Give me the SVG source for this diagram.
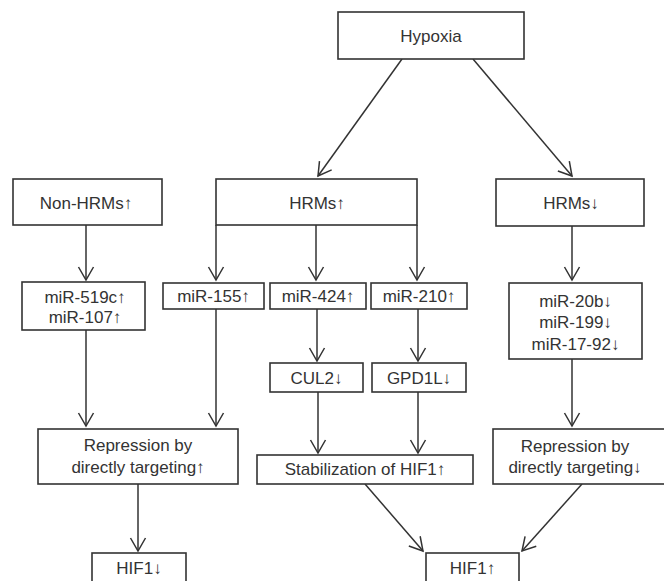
<svg xmlns="http://www.w3.org/2000/svg" width="664" height="581" viewBox="0 0 664 581">
<defs>
<style>
.box{fill:#fff;stroke:#333;stroke-width:1.6}
.t{font-family:"Liberation Sans",Arial,sans-serif;font-size:17px;fill:#333;text-anchor:middle}
.c{stroke:#333;stroke-width:1.5;fill:none}
</style>
<marker id="ah" markerUnits="userSpaceOnUse" markerWidth="20" markerHeight="20" viewBox="-15 -10 17 20" refX="0" refY="0" orient="auto">
<path d="M-13,-7.5 L0,0 L-13,7.5" fill="none" stroke="#333" stroke-width="1.5"/>
</marker>
</defs>
<rect width="664" height="581" fill="#fff"/>
<g id="connectors">
<line class="c" x1="402" y1="59" x2="318" y2="176" marker-end="url(#ah)"/>
<line class="c" x1="473" y1="59" x2="572" y2="176" marker-end="url(#ah)"/>
<line class="c" x1="86" y1="225" x2="86" y2="280" marker-end="url(#ah)"/>
<line class="c" x1="216" y1="225" x2="216" y2="280" marker-end="url(#ah)"/>
<line class="c" x1="316" y1="225" x2="316" y2="280" marker-end="url(#ah)"/>
<line class="c" x1="417" y1="225" x2="417" y2="280" marker-end="url(#ah)"/>
<line class="c" x1="572" y1="226" x2="572" y2="280" marker-end="url(#ah)"/>
<line class="c" x1="86" y1="330" x2="86" y2="426" marker-end="url(#ah)"/>
<line class="c" x1="216" y1="309" x2="216" y2="426" marker-end="url(#ah)"/>
<line class="c" x1="317" y1="309" x2="317" y2="361" marker-end="url(#ah)"/>
<line class="c" x1="418" y1="309" x2="418" y2="361" marker-end="url(#ah)"/>
<line class="c" x1="318" y1="392" x2="318" y2="453" marker-end="url(#ah)"/>
<line class="c" x1="418" y1="392" x2="418" y2="453" marker-end="url(#ah)"/>
<line class="c" x1="572" y1="359" x2="572" y2="426" marker-end="url(#ah)"/>
<line class="c" x1="138" y1="484" x2="138" y2="551" marker-end="url(#ah)"/>
<line class="c" x1="365" y1="484" x2="423" y2="551" marker-end="url(#ah)"/>
<line class="c" x1="582" y1="484" x2="522" y2="551" marker-end="url(#ah)"/>
</g>
<g id="hypoxia"><rect class="box" x="338" y="12" width="186" height="47"/><text class="t" x="431" y="42">Hypoxia</text></g>
<g id="nonhrms"><rect class="box" x="13" y="179" width="149" height="46"/><text class="t" x="86" y="209">Non-HRMs↑</text></g>
<g id="hrms-up"><rect class="box" x="216" y="179" width="201" height="46"/><text class="t" x="317" y="209">HRMs↑</text></g>
<g id="hrms-down"><rect class="box" x="496" y="179" width="148" height="47"/><text class="t" x="571" y="209">HRMs↓</text></g>
<g id="mir519c"><rect class="box" x="22" y="282" width="123" height="48"/><text class="t" x="85" y="303">miR-519c↑</text><text class="t" x="85" y="323">miR-107↑</text></g>
<g id="mir155"><rect class="box" x="163" y="283" width="101" height="26"/><text class="t" x="213.5" y="302">miR-155↑</text></g>
<g id="mir424"><rect class="box" x="270" y="283" width="96" height="26"/><text class="t" x="318" y="302">miR-424↑</text></g>
<g id="mir210"><rect class="box" x="371" y="283" width="96" height="26"/><text class="t" x="419" y="302">miR-210↑</text></g>
<g id="mir20b"><rect class="box" x="509" y="283" width="133" height="76"/><text class="t" x="575.5" y="307">miR-20b↓</text><text class="t" x="575.5" y="328">miR-199↓</text><text class="t" x="575.5" y="350">miR-17-92↓</text></g>
<g id="cul2"><rect class="box" x="270" y="363" width="93" height="29"/><text class="t" x="316.5" y="383.5">CUL2↓</text></g>
<g id="gpd1l"><rect class="box" x="372" y="363" width="94" height="29"/><text class="t" x="419" y="383.5">GPD1L↓</text></g>
<g id="repression-up"><rect class="box" x="38" y="429" width="200" height="55"/><text class="t" x="138" y="451">Repression by</text><text class="t" x="138" y="473">directly targeting↑</text></g>
<g id="stabilization"><rect class="box" x="257" y="455" width="216" height="29"/><text class="t" x="365" y="475">Stabilization of HIF1↑</text></g>
<g id="repression-down"><rect class="box" x="493" y="429" width="180" height="55"/><text class="t" x="575" y="452">Repression by</text><text class="t" x="575" y="473">directly targeting↓</text></g>
<g id="hif1-down"><rect class="box" x="92" y="553" width="94" height="40"/><text class="t" x="139" y="574">HIF1↓</text></g>
<g id="hif1-up"><rect class="box" x="426" y="553" width="93" height="40"/><text class="t" x="472.5" y="574">HIF1↑</text></g>
</svg>
